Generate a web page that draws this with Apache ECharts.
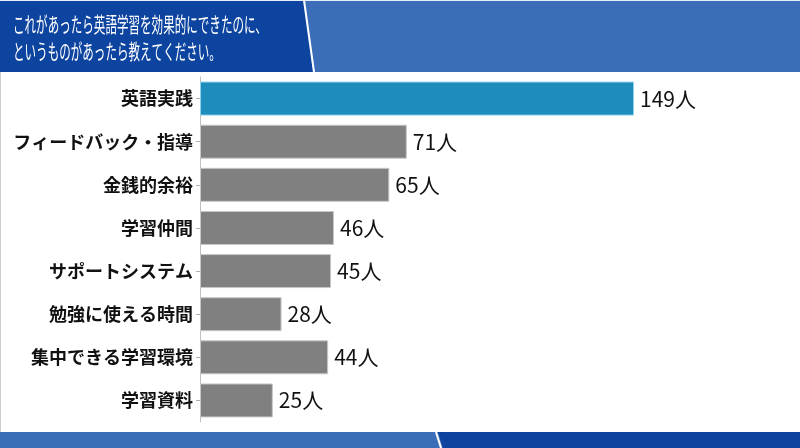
<!DOCTYPE html>
<html>
<head>
<meta charset="utf-8">
<script src="https://cdn.jsdelivr.net/npm/echarts@6/dist/echarts.min.js"></script>
<style>
  html, body { margin: 0; padding: 0; background: #fff; }
  #chart { width: 800px; height: 448px; }
</style>
</head>
<body>
<div id="chart"></div>
<script>
// 回答項目と人数
const categories = ['英語実践', 'フィードバック・指導', '金銭的余裕', '学習仲間', 'サポートシステム', '勉強に使える時間', '集中できる学習環境', '学習資料'];
const counts = [149, 71, 65, 46, 45, 28, 44, 25];
const titleLines = ['これがあったら英語学習を効果的にできたのに、', 'というものがあったら教えてください。'];

const FONT = '"Noto Sans CJK JP", "Noto Sans", sans-serif';
const DARK = '#0d44a0';
const LIGHT = '#3b6db8';

const myChart = echarts.init(document.getElementById('chart'));
myChart.setOption({
  animation: false,
  grid: { left: 200, right: 166, top: 77, bottom: 26, containLabel: false },
  xAxis: {
    type: 'value',
    min: 0,
    max: 149,
    show: false,
  },
  yAxis: {
    type: 'category',
    data: categories,
    inverse: true,
    axisLine: { lineStyle: { color: '#c0c0c0', width: 1 } },
    axisTick: { show: true, length: 4, alignWithLabel: true, lineStyle: { color: '#b0b0b0' } },
    axisLabel: { color: '#111', fontSize: 18, fontWeight: 'bold', fontFamily: FONT, margin: 7 },
  },
  series: [{
    type: 'bar',
    barWidth: 34,
    data: counts.map((v, i) => ({
      value: v,
      itemStyle: i === 0
        ? { color: '#1f8dbb', borderColor: '#8fd0ea', borderWidth: 1 }
        : { color: '#808080', borderColor: '#c8c8c8', borderWidth: 1 },
    })),
    label: {
      show: true,
      position: 'right',
      distance: 6,
      formatter: '{c}人',
      color: '#111',
      fontSize: 21,
      fontFamily: FONT,
    },
  }],
  graphic: [
    // ヘッダー
    { type: 'polygon', shape: { points: [[0, 0], [800, 0], [800, 72], [0, 72]] }, style: { fill: LIGHT } },
    { type: 'polygon', shape: { points: [[0, 0], [303, 0], [313, 72], [0, 72]] }, style: { fill: DARK } },
    { type: 'line', shape: { x1: 304, y1: 0, x2: 314, y2: 72 }, style: { stroke: '#fff', lineWidth: 2 } },
    { type: 'line', shape: { x1: 0, y1: 0.5, x2: 800, y2: 0.5 }, style: { stroke: '#e8eef8', lineWidth: 1 } },
    { type: 'text', x: 13, y: 24, scaleX: 0.55, style: { text: titleLines[0], fill: '#fff', fontSize: 21, fontFamily: FONT, verticalAlign: 'middle' } },
    { type: 'text', x: 13, y: 51, scaleX: 0.55, style: { text: titleLines[1], fill: '#fff', fontSize: 21, fontFamily: FONT, verticalAlign: 'middle' } },
    // 左端の線
    { type: 'line', shape: { x1: 0.5, y1: 72, x2: 0.5, y2: 432 }, style: { stroke: '#cccccc', lineWidth: 1 } },
    // フッター
    { type: 'polygon', shape: { points: [[0, 432], [800, 432], [800, 448], [0, 448]] }, style: { fill: LIGHT } },
    { type: 'polygon', shape: { points: [[438, 432], [800, 432], [800, 448], [443, 448]] }, style: { fill: DARK } },
    { type: 'line', shape: { x1: 436, y1: 432, x2: 441, y2: 448 }, style: { stroke: '#fff', lineWidth: 2 } },
  ],
});
</script>
</body>
</html>
